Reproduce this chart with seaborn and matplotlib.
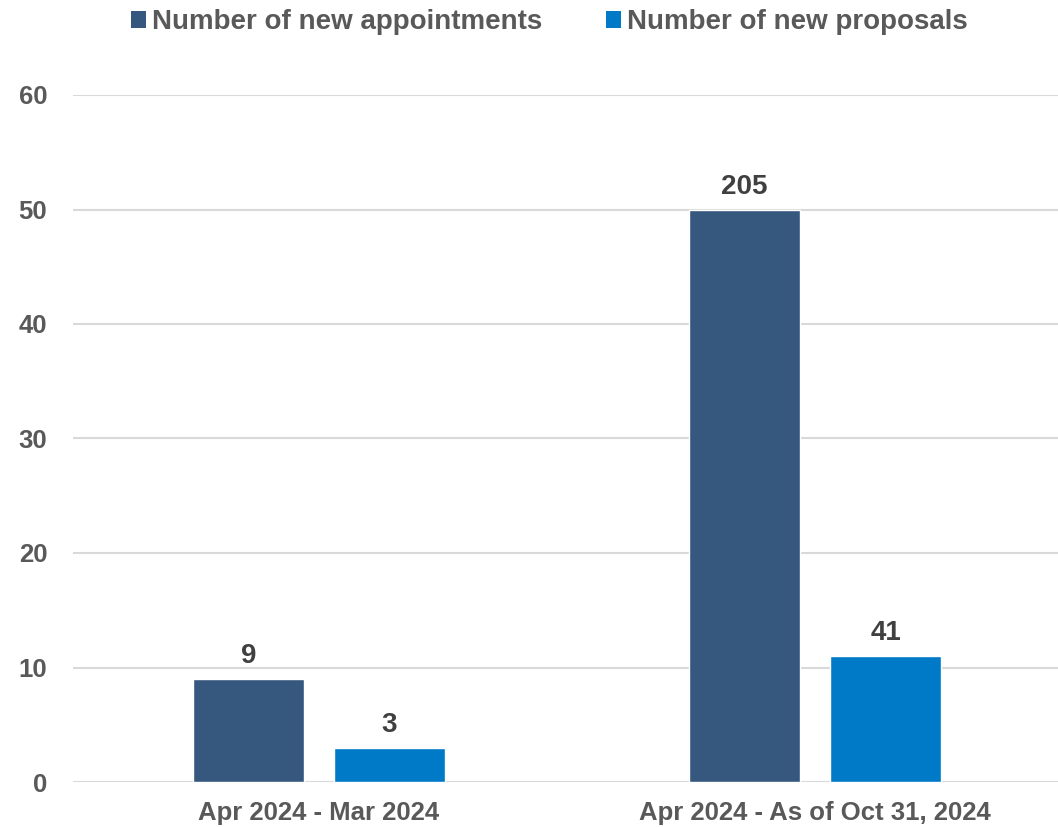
import matplotlib
matplotlib.use("Agg")
import matplotlib.pyplot as plt
from matplotlib.patches import Patch
import seaborn as sns
import pandas as pd

# Periods on the x axis
periods = ["Apr 2024 - Mar 2024", "Apr 2024 - As of Oct 31, 2024"]
series_names = ["Number of new appointments", "Number of new proposals"]

# Bar heights on the 0-60 axis
appointments_height = [9, 50]
proposals_height = [3, 11]

# Counts printed above each bar
appointments_label = ["9", "205"]
proposals_label = ["3", "41"]

colors = ["#36587E", "#0079C7"]
text_color = "#595959"
label_color = "#404040"

df = pd.DataFrame({
    "period": periods * 2,
    "series": [series_names[0]] * 2 + [series_names[1]] * 2,
    "value": appointments_height + proposals_height,
})

sns.set_style("white")
plt.rcParams["font.family"] = ["Liberation Sans", "DejaVu Sans"]
plt.rcParams["font.weight"] = "bold"

fig = plt.figure(figsize=(10.58, 8.27), dpi=100)
ax = fig.add_axes([73 / 1058, 1 - 782 / 827, (1058 - 73) / 1058, (782 - 95) / 827])

sns.barplot(data=df, x="period", y="value", hue="series", palette=colors,
            width=0.569, gap=0.213, ax=ax, legend=False, saturation=1)

ax.set_ylim(0, 60)
ax.set_yticks(range(0, 61, 10))
ax.set_xlim(-0.496, 1.49)
ax.yaxis.grid(True, color="#D9D9D9", linewidth=1.5)
ax.set_axisbelow(True)
for s in ax.spines.values():
    s.set_visible(False)
ax.set_xlabel("")
ax.set_ylabel("")
ax.tick_params(axis="both", length=0, labelsize=18.5, labelcolor=text_color)
ax.tick_params(axis="y", pad=18.5)
ax.tick_params(axis="x", pad=14)
for t in ax.get_xticklabels() + ax.get_yticklabels():
    t.set_fontweight("bold")

# Count labels above bars
for container, labels in zip(ax.containers, [appointments_label, proposals_label]):
    ax.bar_label(container, labels=labels, padding=7, fontsize=20,
                 fontweight="bold", color=label_color)

handles = [Patch(facecolor=c, edgecolor="none") for c in colors]
fig.legend(handles, series_names, loc="center", bbox_to_anchor=(549 / 1058, 1 - 22 / 827),
           ncol=2, frameon=False, handlelength=0.55, handleheight=0.55,
           handletextpad=0.2, columnspacing=2.3, labelcolor=text_color,
           prop={"weight": "bold", "size": 20})

fig.savefig("out.png", dpi=100)
